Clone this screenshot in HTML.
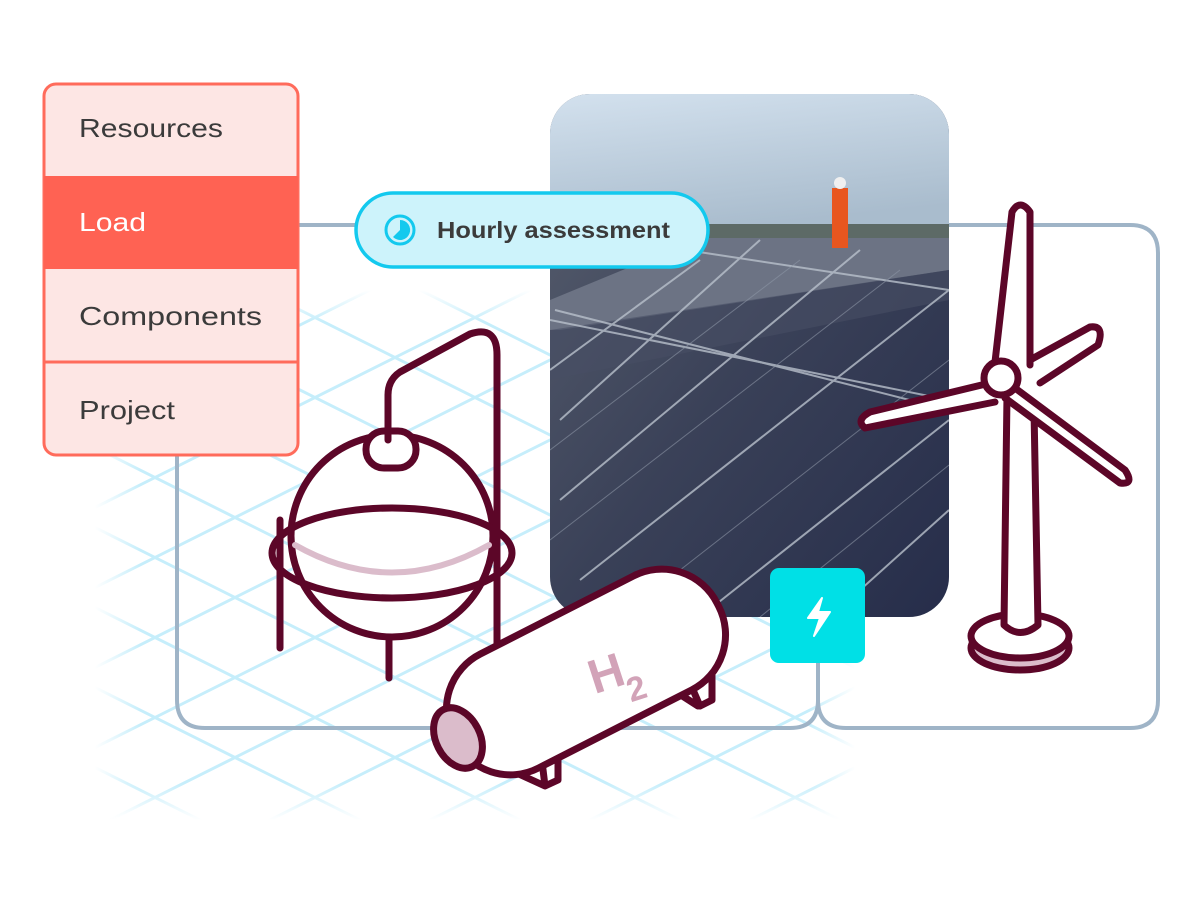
<!DOCTYPE html>
<html><head><meta charset="utf-8"><style>
html,body{margin:0;padding:0;background:#fff;width:1200px;height:900px;overflow:hidden}
svg{display:block;overflow:hidden}
text{font-family:"Liberation Sans",sans-serif}
</style></head><body>
<svg width="1200" height="900" viewBox="0 0 1200 900" xmlns="http://www.w3.org/2000/svg">
<defs>
<linearGradient id="fx" x1="0" y1="0" x2="1" y2="0">
<stop offset="0" stop-color="#000"/><stop offset="0.06" stop-color="#fff"/><stop offset="0.94" stop-color="#fff"/><stop offset="1" stop-color="#000"/>
</linearGradient>
<linearGradient id="fy" x1="0" y1="0" x2="0" y2="1">
<stop offset="0" stop-color="#000"/><stop offset="0.06" stop-color="#fff"/><stop offset="0.93" stop-color="#fff"/><stop offset="1" stop-color="#000"/>
</linearGradient>
<mask id="gmx"><rect x="95" y="290" width="760" height="530" fill="url(#fx)"/></mask>
<mask id="gmy"><rect x="95" y="290" width="760" height="530" fill="url(#fy)"/></mask>
<linearGradient id="sky" x1="0" y1="0" x2="0.3" y2="1">
<stop offset="0" stop-color="#d3e1ee"/><stop offset="1" stop-color="#a9bccd"/>
</linearGradient>
<linearGradient id="pan" x1="0" y1="0" x2="1" y2="1">
<stop offset="0" stop-color="#59606f"/><stop offset="0.5" stop-color="#3a4158"/><stop offset="1" stop-color="#262d4a"/>
</linearGradient>
<clipPath id="pc"><rect x="550" y="94" width="399" height="523" rx="40"/></clipPath>
</defs>

<!-- grid -->
<g mask="url(#gmx)"><g mask="url(#gmy)" stroke="#c6eefb" stroke-width="3">
<g id="gl">
<line x1="0" y1="-400" x2="1000" y2="100"/><line x1="0" y1="-320" x2="1000" y2="180"/>
<line x1="0" y1="-240" x2="1000" y2="260"/><line x1="0" y1="-160" x2="1000" y2="340"/>
<line x1="0" y1="-80" x2="1000" y2="420"/><line x1="0" y1="0" x2="1000" y2="500"/>
<line x1="0" y1="80" x2="1000" y2="580"/><line x1="0" y1="160" x2="1000" y2="660"/>
<line x1="0" y1="240" x2="1000" y2="740"/><line x1="0" y1="320" x2="1000" y2="820"/>
<line x1="0" y1="400" x2="1000" y2="900"/><line x1="0" y1="480" x2="1000" y2="980"/>
<line x1="0" y1="560" x2="1000" y2="1060"/><line x1="0" y1="640" x2="1000" y2="1140"/>
<line x1="0" y1="720" x2="1000" y2="1220"/><line x1="0" y1="800" x2="1000" y2="1300"/>
</g>
<use href="#gl" transform="translate(950,0) scale(-1,1)"/>
</g></g>

<!-- connector boxes -->
<g fill="none" stroke="#9fb4c7" stroke-width="4">
<path d="M298 225 H790 Q818 225 818 253 V700 Q818 728 790 728 H205 Q177 728 177 700 V456"/>
<path d="M818 700 Q818 728 846 728 H1130 Q1158 728 1158 700 V253 Q1158 225 1130 225 H940"/>
</g>

<!-- photo -->
<g clip-path="url(#pc)">
<rect x="550" y="94" width="399" height="523" fill="url(#pan)"/>
<rect x="550" y="94" width="399" height="140" fill="url(#sky)"/>
<rect x="700" y="224" width="249" height="14" fill="#5d6a66"/>
<polygon points="550,300 700,238 949,238 949,270 560,330 550,330" fill="#6c7384"/>
<polygon points="550,330 949,270 949,300 550,380" fill="#474f64" opacity="0.6"/>
<g stroke="#b9c1cc" stroke-width="2" opacity="0.8">
<line x1="550" y1="320" x2="949" y2="400"/><line x1="620" y1="240" x2="949" y2="290"/>
<line x1="555" y1="310" x2="949" y2="410"/>
<line x1="560" y1="420" x2="760" y2="240"/><line x1="560" y1="500" x2="860" y2="250"/>
<line x1="580" y1="580" x2="949" y2="290"/><line x1="700" y1="617" x2="949" y2="420"/>
<line x1="830" y1="617" x2="949" y2="510"/><line x1="550" y1="370" x2="700" y2="260"/>
</g>
<g stroke="#8d96a6" stroke-width="1" opacity="0.6">
<line x1="550" y1="450" x2="800" y2="260"/><line x1="550" y1="540" x2="900" y2="270"/>
<line x1="620" y1="617" x2="949" y2="360"/><line x1="760" y1="617" x2="949" y2="465"/>
</g>
<rect x="832" y="188" width="16" height="60" fill="#e8561f"/>
<circle cx="840" cy="183" r="6" fill="#f0f0f0"/>
</g>

<!-- sphere tank -->
<g fill="none" stroke="#5c0628" stroke-width="7" stroke-linecap="round" stroke-linejoin="round">
<path d="M280 520 V648 M389 612 V678 M497 560 V650"/>
<circle cx="392" cy="536" r="101" fill="#fff"/>
<path d="M295 545 Q392 600 489 545" stroke="#dbbccb" stroke-width="6"/>
<ellipse cx="392" cy="553" rx="120" ry="45"/>
<path d="M497 600 V355 Q497 325 470 334 L400 372 Q388 380 388 395 V440"/>
<rect x="366" y="431" width="50" height="37" rx="18" fill="#fff"/>
<path d="M388 432 V440"/>
</g>

<!-- H2 cylinder -->
<g stroke="#5c0628" stroke-width="7" stroke-linejoin="round" stroke-linecap="round">
<path d="M680 660 L700 706 L712 700 V662 M698 706 L670 688" fill="#fff"/>
<path d="M540 745 L545 786 L558 780 V742 M545 786 L510 770" fill="#fff"/>
<rect x="438" y="608" width="296" height="128" rx="62" transform="rotate(-27 586 672)" fill="#fff"/>
<ellipse cx="458" cy="738" rx="22" ry="32" transform="rotate(-27 458 738)" fill="#dbbccb"/>
</g>
<text x="590" y="695" font-size="48" fill="#d2a3b8" transform="rotate(-18 590 680)" font-weight="bold">H</text>
<text x="627" y="703" font-size="34" fill="#d2a3b8" font-weight="bold" transform="rotate(-18 627 690)">2</text>

<!-- wind turbine -->
<g stroke="#5c0628" stroke-width="7" stroke-linejoin="round" stroke-linecap="round" fill="#fff">
<ellipse cx="1020" cy="648" rx="49" ry="22" fill="#dbbccb"/>
<ellipse cx="1020" cy="636" rx="49" ry="22"/>
<path d="M1007 395 L1004 625 Q1020 640 1038 625 L1034 410"/>
<path d="M1030 360 L1090 327 Q1105 325 1098 345 L1040 383"/>
<path d="M1015 388 L1125 470 Q1135 485 1120 483 L1005 398"/>
<path d="M990 383 L870 412 Q855 420 865 428 L995 402"/>
<path d="M995 362 L1012 212 Q1020 198 1030 212 L1030 365"/>
<circle cx="1001" cy="378" r="17"/>
</g>

<!-- cyan bolt -->
<rect x="770" y="568" width="95" height="95" rx="9" fill="#00e0e6"/>
<path d="M822 598 L808 618 H820 L814 636 L830 612 H818 Z" fill="#fff" stroke="#fff" stroke-width="2" stroke-linejoin="round"/>

<!-- menu -->
<rect x="44" y="84" width="254" height="371" rx="12" fill="#fde6e4" stroke="#ff6b5b" stroke-width="3"/>
<rect x="44" y="176" width="254" height="93" fill="#ff6253"/>
<line x1="44" y1="362" x2="298" y2="362" stroke="#ff6b5b" stroke-width="3"/>
<g font-size="26" fill="#3b3b3b">
<text x="79" y="137" textLength="144" lengthAdjust="spacingAndGlyphs">Resources</text>
<text x="79" y="231" fill="#fff" textLength="67" lengthAdjust="spacingAndGlyphs">Load</text>
<text x="79" y="325" textLength="183" lengthAdjust="spacingAndGlyphs">Components</text>
<text x="79" y="419" textLength="96" lengthAdjust="spacingAndGlyphs">Project</text>
</g>

<!-- pill -->
<rect x="356" y="193" width="352" height="74" rx="37" fill="#cdf3fb" stroke="#13c9ee" stroke-width="3.5"/>
<circle cx="400" cy="230" r="14" fill="none" stroke="#13c9ee" stroke-width="3"/>
<path d="M400 220 A10 10 0 1 1 393 237 L400 230 Z" fill="#13c9ee"/>
<text x="437" y="238" font-size="23" font-weight="bold" fill="#3b3b3b" textLength="233" lengthAdjust="spacingAndGlyphs">Hourly assessment</text>
</svg>
</body></html>
